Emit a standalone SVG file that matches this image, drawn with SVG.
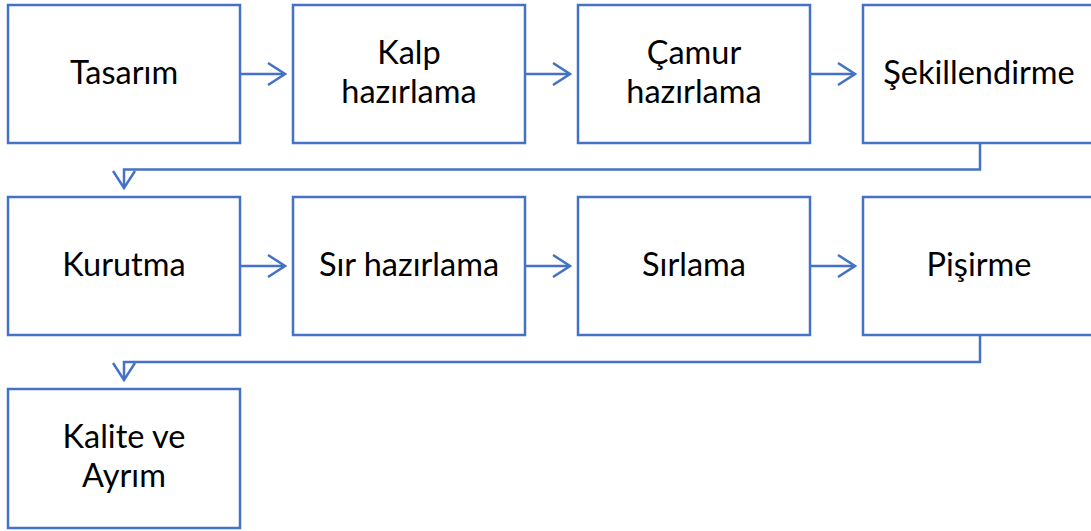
<svg xmlns="http://www.w3.org/2000/svg" width="1091" height="531" viewBox="0 0 1091 531">
<style>
.box{fill:#fff;stroke:#4472C4;stroke-width:2.5}
.lbl{font-family:Lato,"Open Sans","Liberation Sans",sans-serif;font-size:32.5px;fill:#000;text-anchor:middle}
.con{fill:none;stroke:#4472C4;stroke-width:2.5}
</style>
<defs>
<marker id="arr" viewBox="0 0 20 24" refX="18" refY="12" markerWidth="20" markerHeight="24" markerUnits="userSpaceOnUse" orient="auto">
<path d="M1 1 L18 12 L1 23" fill="none" stroke="#4472C4" stroke-width="2.5"/>
</marker>
</defs>
<rect width="1091" height="531" fill="#fff"/>
<g id="connectors">
<line class="con" x1="241" y1="74" x2="285" y2="74" marker-end="url(#arr)"/>
<line class="con" x1="526" y1="74" x2="570" y2="74" marker-end="url(#arr)"/>
<line class="con" x1="811" y1="74" x2="855" y2="74" marker-end="url(#arr)"/>
<polyline class="con" points="980,144 980,169.5 124,169.5 124,188" marker-end="url(#arr)"/>
<line class="con" x1="241" y1="266" x2="285" y2="266" marker-end="url(#arr)"/>
<line class="con" x1="526" y1="266" x2="570" y2="266" marker-end="url(#arr)"/>
<line class="con" x1="811" y1="266" x2="855" y2="266" marker-end="url(#arr)"/>
<polyline class="con" points="980,336 980,362 124,362 124,380" marker-end="url(#arr)"/>
</g>
<g id="n1"><rect class="box" x="8" y="5" width="232" height="138"/><text class="lbl" x="124" y="84">Tasarım</text></g>
<g id="n2"><rect class="box" x="293" y="5" width="232" height="138"/><text class="lbl" x="409" y="64">Kalp</text><text class="lbl" x="409" y="103">hazırlama</text></g>
<g id="n3"><rect class="box" x="578" y="5" width="232" height="138"/><text class="lbl" x="694" y="64">Çamur</text><text class="lbl" x="694" y="103">hazırlama</text></g>
<g id="n4"><rect class="box" x="863" y="5" width="232" height="138"/><text class="lbl" x="979" y="84">Şekillendirme</text></g>
<g id="n5"><rect class="box" x="8" y="197" width="232" height="138"/><text class="lbl" x="124" y="276">Kurutma</text></g>
<g id="n6"><rect class="box" x="293" y="197" width="232" height="138"/><text class="lbl" x="409" y="276">Sır hazırlama</text></g>
<g id="n7"><rect class="box" x="578" y="197" width="232" height="138"/><text class="lbl" x="694" y="276">Sırlama</text></g>
<g id="n8"><rect class="box" x="863" y="197" width="232" height="138"/><text class="lbl" x="979" y="276">Pişirme</text></g>
<g id="n9"><rect class="box" x="8" y="389" width="232" height="139"/><text class="lbl" x="124" y="448">Kalite ve</text><text class="lbl" x="124" y="487">Ayrım</text></g>
</svg>
